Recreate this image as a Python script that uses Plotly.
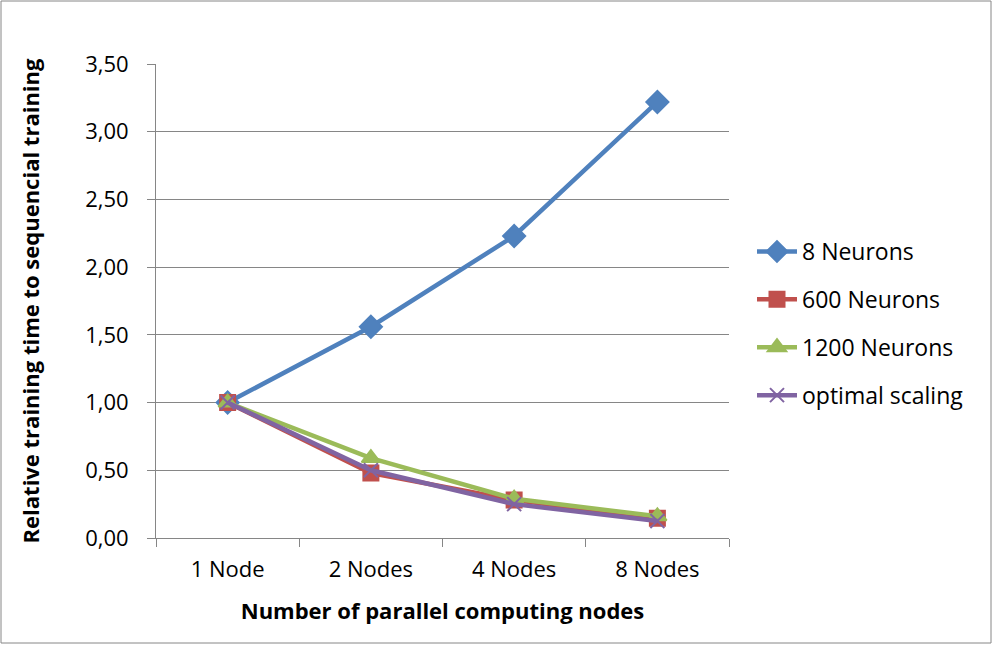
import plotly.graph_objects as go

categories = ["1 Node", "2 Nodes", "4 Nodes", "8 Nodes"]
neurons_8 = [1.00, 1.56, 2.23, 3.22]
neurons_600 = [1.00, 0.48, 0.28, 0.145]
neurons_1200 = [1.00, 0.59, 0.29, 0.16]
optimal = [1.00, 0.50, 0.25, 0.125]
y_ticks = [0, 0.5, 1.0, 1.5, 2.0, 2.5, 3.0, 3.5]

FONT = "'Open Sans', sans-serif"
series = [
    ("8 Neurons", neurons_8, "#4F81BD", "diamond", 17),
    ("600 Neurons", neurons_600, "#C0504D", "square", 15),
    ("1200 Neurons", neurons_1200, "#9BBB59", "triangle-up", 16),
    ("optimal scaling", optimal, "#8064A2", "x-thin", 14),
]

fig = go.Figure()
for i, (name, vals, col, sym, sz) in enumerate(series):
    fig.add_trace(go.Scatter(
        x=categories, y=vals, name=name, mode="lines+markers",
        line=dict(color=col, width=4.5),
        marker=dict(symbol=sym, size=sz, color=col,
                    line=dict(color=col, width=2)),
        legendgroup=f"g{i}",
    ))

W, H = 993, 645
L, R, T, B = 156, 264, 64, 107
pw, ph = W - L - R, H - T - B

fig.update_layout(
    width=W, height=H,
    margin=dict(l=L, r=R, t=T, b=B),
    paper_bgcolor="white", plot_bgcolor="white",
    separators=", ",
    font=dict(family=FONT, size=22, color="black"),
    showlegend=True,
    legend=dict(x=(752 - L) / pw, y=(T + ph - 251 + 21) / ph, xanchor="left", yanchor="top",
                font=dict(size=23), tracegroupgap=15, itemwidth=40,
                bgcolor="rgba(0,0,0,0)"),
    xaxis=dict(
        range=[-0.5, 3.5],
        showline=True, linecolor="#868686", linewidth=1,
        ticks="outside", ticklen=8, tickcolor="#868686", tickson="boundaries",
        ticklabelstandoff=12,
        showgrid=False,
        title=dict(text="<b>Number of parallel computing nodes</b>", font=dict(size=22), standoff=21),
        tickfont=dict(size=22),
    ),
    yaxis=dict(
        range=[0, 3.5], tickvals=y_ticks, tickformat=".2f",
        showline=True, linecolor="#868686", linewidth=1,
        ticks="outside", ticklen=8, tickcolor="#868686",
        ticklabelstandoff=14,
        showgrid=True, gridcolor="#868686", gridwidth=1,
        zeroline=False,
        title=dict(text="<b>Relative training time to sequencial training</b>", font=dict(size=22), standoff=39),
        tickfont=dict(size=22),
    ),
    shapes=[dict(type="rect", xref="paper", yref="paper",
                 x0=(1 - L) / pw, x1=(991 - L) / pw,
                 y0=(T + ph - 643) / ph, y1=(T + ph - 1) / ph,
                 line=dict(color="#868686", width=1), fillcolor="rgba(0,0,0,0)", layer="below")],
)

fig.write_html("out.html")
